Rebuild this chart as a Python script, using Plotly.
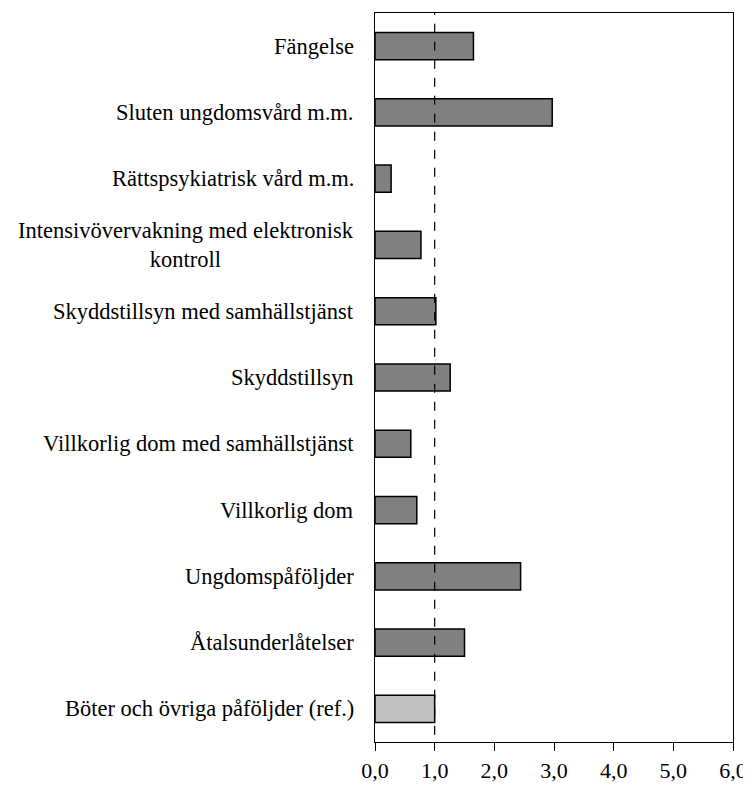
import plotly.graph_objects as go

categories = [
    "Fängelse",
    "Sluten ungdomsvård m.m.",
    "Rättspsykiatrisk vård m.m.",
    "Intensivövervakning med elektronisk<br>kontroll",
    "Skyddstillsyn med samhällstjänst",
    "Skyddstillsyn",
    "Villkorlig dom med samhällstjänst",
    "Villkorlig dom",
    "Ungdomspåföljder",
    "Åtalsunderlåtelser",
    "Böter och övriga påföljder (ref.)",
]
values = [1.65, 2.97, 0.27, 0.77, 1.02, 1.26, 0.60, 0.70, 2.44, 1.50, 1.00]
bar_colors = ["#808080"] * 10 + ["#c0c0c0"]
tick_vals = [0, 1, 2, 3, 4, 5, 6]
tick_text = ["0,0", "1,0", "2,0", "3,0", "4,0", "5,0", "6,0"]
ref_value = 1.0

FONT = "Liberation Serif"

fig = go.Figure()
fig.add_trace(go.Bar(
    y=categories,
    x=values,
    orientation="h",
    marker=dict(color=bar_colors, line=dict(color="black", width=1.5)),
    width=0.41,
    showlegend=False,
    hoverinfo="x+y",
))

for cat in categories:
    fig.add_annotation(
        x=0, xref="paper", y=cat, yref="y",
        text=cat, showarrow=False,
        xanchor="right", yanchor="middle", align="center",
        xshift=-19,
        font=dict(family=FONT, size=22.5, color="black"),
    )

fig.add_shape(
    type="line", xref="x", yref="paper",
    x0=ref_value, x1=ref_value, y0=0.01, y1=1,
    line=dict(color="black", width=1.2, dash="dash"),
)

# page body has an 8px margin: shrink figure so it fits the 751x787 window
fig.update_layout(
    width=743, height=779,
    margin=dict(l=367, r=14, t=4, b=43),
    plot_bgcolor="white", paper_bgcolor="white",
    font=dict(family=FONT, size=22, color="black"),
    bargap=0.59,
)
fig.update_xaxes(
    range=[0, 6], tickvals=tick_vals, ticktext=tick_text,
    ticks="outside", ticklen=8, tickwidth=1.3, tickcolor="black",
    showline=True, linecolor="black", linewidth=1.3, mirror=True,
    showgrid=False, zeroline=False,
    tickfont=dict(family=FONT, size=22, color="black"),
)
fig.update_yaxes(
    categoryorder="array", categoryarray=categories,
    autorange="reversed",
    showticklabels=False, ticks="",
    showline=True, linecolor="black", linewidth=1.3, mirror=True,
    showgrid=False, zeroline=False,
)

fig.write_html("out.html")
